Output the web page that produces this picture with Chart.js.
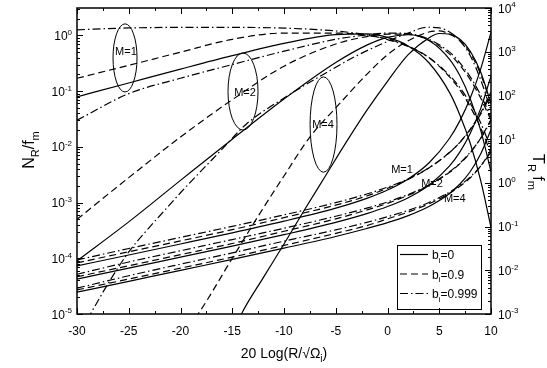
<!DOCTYPE html>
<html>
<head>
<meta charset="utf-8">
<script src="https://cdn.jsdelivr.net/npm/chart.js@4.4.1/dist/chart.umd.min.js"></script>
<style>
  html, body { margin: 0; padding: 0; background: #fff; }
</style>
</head>
<body>
<canvas id="chart" width="547" height="368"></canvas>
<script>
// threshold in dB, shared by most curves
const xGrid = [-30, -25, -20, -15, -10, -5, -2, 0, 2, 4, 6, 7, 8, 9, 10];

// N_R / f_m (left axis)
const nM1b0 = [0.079, 0.14, 0.248, 0.432, 0.717, 1.03, 1.06, 0.92, 0.647, 0.323, 0.094, 0.037, 0.0115, 0.0025, 0.00036];
const nM1b09 = [0.17, 0.29, 0.5, 0.85, 1.1, 1.1, 1.0, 0.86, 0.64, 0.4, 0.18, 0.105, 0.052, 0.022, 0.0075];
const nM1b999 = [1.26, 1.36, 1.39, 1.39, 1.35, 1.2, 1.02, 0.84, 0.63, 0.4, 0.19, 0.115, 0.06, 0.027, 0.0093];
const nM2b0 = [9e-5, 4.5e-4, 2.5e-3, 0.0137, 0.072, 0.325, 0.668, 0.922, 1.026, 0.809, 0.372, 0.188, 0.072, 0.02, 0.0036];
const nM2b09 = [5e-4, 2.8e-3, 0.015, 0.07, 0.28, 0.7, 0.95, 1.05, 1.05, 0.82, 0.46, 0.29, 0.16, 0.075, 0.03];
const nM2b999 = [0.03, 0.09, 0.17, 0.3, 0.52, 0.85, 1.02, 1.1, 1.08, 0.85, 0.5, 0.32, 0.18, 0.085, 0.034];

// the M=4 curves start below the axis, so they get their own x values
const xM4b0 = [-14.5, -14, -12, -10, -8, -6, -4, -2, 0, 2, 4, 5, 6, 7, 8, 9, 10];
const nM4b0 = [7e-6, 1.1e-5, 4.5e-5, 1.8e-4, 7.5e-4, 3e-3, 0.012, 0.045, 0.15, 0.45, 0.9, 1.08, 1.05, 0.85, 0.52, 0.22, 0.06];
const xM4b09 = [-18.6, -18.3, -15, -12, -10, -7.5, -5, -2, 0, 2, 4, 5, 6, 7, 8, 9, 10];
const nM4b09 = [8.5e-6, 1e-5, 1e-4, 8e-4, 3e-3, 0.015, 0.05, 0.2, 0.45, 0.8, 1.15, 1.2, 1.05, 0.8, 0.48, 0.2, 0.06];
const xM4b999 = [-29, -28.7, -27, -25, -23, -22, -20, -16, -13.6, -10, -6, -3, 0, 2, 3.8, 5, 6, 7, 8, 9, 10];
const nM4b999 = [8e-6, 1e-5, 3.5e-5, 1.3e-4, 3.6e-4, 5.8e-4, 1.5e-3, 9e-3, 0.026, 0.075, 0.21, 0.43, 0.78, 1.1, 1.4, 1.36, 1.15, 0.8, 0.43, 0.16, 0.045];

// T_R f_m (right axis)
const tM1b0 = [0.0126, 0.0224, 0.04, 0.072, 0.133, 0.264, 0.442, 0.685, 1.23, 2.85, 10.5, 26.5, 87, 400, 2780];
const tM1b09 = [0.0148, 0.0265, 0.047, 0.085, 0.16, 0.31, 0.5, 0.75, 1.2, 2.2, 5.0, 8.5, 17, 40, 120];
const tM1b999 = [0.0172, 0.0315, 0.0565, 0.101, 0.185, 0.353, 0.556, 0.796, 1.24, 2.2, 4.94, 8.45, 16.4, 37.3, 105];
const tM2b0 = [0.0063, 0.0112, 0.02, 0.0356, 0.0653, 0.125, 0.198, 0.287, 0.458, 0.884, 2.44, 5.11, 13.6, 50, 277];
const tM2b09 = [0.0071, 0.0127, 0.0228, 0.041, 0.078, 0.15, 0.24, 0.34, 0.52, 0.87, 1.75, 2.75, 4.9, 10.5, 28];
const tM2b999 = [0.0081, 0.0155, 0.028, 0.0505, 0.0915, 0.172, 0.2635, 0.366, 0.542, 0.894, 1.79, 2.83, 5.04, 10.4, 26.3];
const tM4b0 = [0.00315, 0.0056, 0.00997, 0.0177, 0.032, 0.0594, 0.0903, 0.123, 0.178, 0.288, 0.572, 0.94, 1.82, 4.57, 16.5];
const tM4b09 = [0.00355, 0.0063, 0.0112, 0.02, 0.037, 0.07, 0.105, 0.15, 0.215, 0.33, 0.58, 0.84, 1.3, 2.4, 5.5];
const tM4b999 = [0.0039, 0.0075, 0.0138, 0.025, 0.0465, 0.084, 0.125, 0.168, 0.235, 0.356, 0.615, 0.879, 1.376, 2.42, 5.08];

// ticks
const xTickValues = [-30, -25, -20, -15, -10, -5, 0, 5, 10];
const nDecades = [-5, -4, -3, -2, -1, 0];
const tDecades = [-3, -2, -1, 0, 1, 2, 3, 4];

// legend
const legendLabels = ["0", "0.9", "0.999"];

const FONT = 'Arial, "Liberation Sans", Helvetica, sans-serif';
const SOLID = [];
const DASH = [7, 4];
const DASHDOT = [8, 3, 1.5, 3];
const dashes = [SOLID, DASH, DASHDOT];

function pts(xs, ys) {
  return xs.map((x, i) => ({ x: x, y: ys[i] }));
}

function line(xs, ys, axis, dash) {
  return {
    data: pts(xs, ys),
    yAxisID: axis,
    borderColor: "#000",
    borderWidth: 1.2,
    borderDash: dash,
    pointRadius: 0,
    fill: false,
    cubicInterpolationMode: "monotone",
  };
}

const datasets = [
  line(xGrid, nM1b0, "yN", SOLID),
  line(xGrid, nM1b09, "yN", DASH),
  line(xGrid, nM1b999, "yN", DASHDOT),
  line(xGrid, nM2b0, "yN", SOLID),
  line(xGrid, nM2b09, "yN", DASH),
  line(xGrid, nM2b999, "yN", DASHDOT),
  line(xM4b0, nM4b0, "yN", SOLID),
  line(xM4b09, nM4b09, "yN", DASH),
  line(xM4b999, nM4b999, "yN", DASHDOT),
  line(xGrid, tM1b0, "yT", SOLID),
  line(xGrid, tM1b09, "yT", DASH),
  line(xGrid, tM1b999, "yT", DASHDOT),
  line(xGrid, tM2b0, "yT", SOLID),
  line(xGrid, tM2b09, "yT", DASH),
  line(xGrid, tM2b999, "yT", DASHDOT),
  line(xGrid, tM4b0, "yT", SOLID),
  line(xGrid, tM4b09, "yT", DASH),
  line(xGrid, tM4b999, "yT", DASHDOT),
];

// text with sub/superscript parts: [text, "sub" | "sup" | undefined]
function rich(ctx, parts, x, y, size, align) {
  const segs = parts.map((p) => {
    const s = p[1] ? Math.round(size * 0.7) : size;
    ctx.font = s + "px " + FONT;
    let dy = 0;
    if (p[1] === "sub") dy = size * 0.3;
    if (p[1] === "sup") dy = -size * 0.42;
    return { t: p[0], s: s, w: ctx.measureText(p[0]).width, dy: dy };
  });
  const total = segs.reduce((s, g) => s + g.w, 0);
  let cx = x;
  if (align === "right") cx = x - total;
  if (align === "center") cx = x - total / 2;
  ctx.textAlign = "left";
  ctx.textBaseline = "alphabetic";
  segs.forEach((g) => {
    ctx.font = g.s + "px " + FONT;
    ctx.fillText(g.t, cx, y + g.dy);
    cx += g.w;
  });
}

const decor = {
  id: "decor",
  afterDatasetsDraw(chart) {
    const { ctx, chartArea: a, scales } = chart;
    const sx = scales.x, sn = scales.yN, st = scales.yT;
    ctx.save();
    ctx.strokeStyle = "#000";
    ctx.fillStyle = "#000";

    // frame
    ctx.lineWidth = 1.5;
    ctx.strokeRect(a.left, a.top, a.right - a.left, a.bottom - a.top);

    // x ticks (inside, bottom and top) and labels
    ctx.lineWidth = 1;
    ctx.beginPath();
    xTickValues.forEach((v, i) => {
      const px = Math.round(sx.getPixelForValue(v)) + 0.5;
      ctx.moveTo(px, a.bottom); ctx.lineTo(px, a.bottom - 6);
      ctx.moveTo(px, a.top); ctx.lineTo(px, a.top + 6);
      if (i < xTickValues.length - 1) {
        const pm = Math.round(sx.getPixelForValue((v + xTickValues[i + 1]) / 2)) + 0.5;
        ctx.moveTo(pm, a.bottom); ctx.lineTo(pm, a.bottom - 3);
        ctx.moveTo(pm, a.top); ctx.lineTo(pm, a.top + 3);
      }
    });
    ctx.stroke();
    xTickValues.forEach((v) => {
      rich(ctx, [[String(v)]], sx.getPixelForValue(v), a.bottom + 21, 12, "center");
    });

    // log ticks for a y scale
    function logTicks(scale, decades, left) {
      const x0 = left ? a.left : a.right;
      const dir = left ? 1 : -1;
      ctx.beginPath();
      decades.forEach((d) => {
        for (let m = 1; m <= 9; m++) {
          const v = m * Math.pow(10, d);
          if (v < scale.min * 0.999 || v > scale.max * 1.001) continue;
          const py = Math.round(scale.getPixelForValue(v)) + 0.5;
          const len = m === 1 ? 6 : 3;
          ctx.moveTo(x0, py); ctx.lineTo(x0 + dir * len, py);
        }
      });
      ctx.stroke();
      decades.forEach((d) => {
        const py = scale.getPixelForValue(Math.pow(10, d));
        if (left) rich(ctx, [["10"], [String(d), "sup"]], a.left - 5, py + 4.5, 12, "right");
        else rich(ctx, [["10"], [String(d), "sup"]], a.right + 7, py + 4.5, 12, "left");
      });
    }
    logTicks(sn, nDecades, true);
    logTicks(st, tDecades, false);

    // axis titles
    rich(ctx, [["20 Log(R/\u221A\u03A9"], ["i", "sub"], [")"]], (a.left + a.right) / 2, a.bottom + 44, 14, "center");
    ctx.save();
    ctx.translate(a.left - 43, (a.top + a.bottom) / 2 - 11);
    ctx.rotate(-Math.PI / 2);
    rich(ctx, [["N"], ["R", "sub"], ["/f"], ["m", "sub"]], 0, 0, 16, "center");
    ctx.restore();
    ctx.save();
    ctx.translate(a.right + 42, (a.top + a.bottom) / 2 + 11);
    ctx.rotate(Math.PI / 2);
    rich(ctx, [["T"], ["R", "sub"], [" f"], ["m", "sub"]], 0, 0, 16, "center");
    ctx.restore();

    // ellipses grouping the N_R curves
    ctx.lineWidth = 1;
    const groups = [
      { label: "M=1", xc: -25.36, hw: 1.16, top: 1.61, bot: 0.0964, lx: -25.27, ly: 0.526 },
      { label: "M=2", xc: -13.96, hw: 1.45, top: 0.484, bot: 0.02, lx: -13.77, ly: 0.096 },
      { label: "M=4", xc: -6.18, hw: 1.3, top: 0.18, bot: 0.0035, lx: -6.23, ly: 0.0255 },
    ];
    groups.forEach((g) => {
      const cx = sx.getPixelForValue(g.xc);
      const rx = sx.getPixelForValue(g.xc + g.hw) - cx;
      const y1 = sn.getPixelForValue(g.top), y2 = sn.getPixelForValue(g.bot);
      ctx.beginPath();
      ctx.ellipse(cx, (y1 + y2) / 2, rx, (y2 - y1) / 2, 0, 0, Math.PI * 2);
      ctx.stroke();
      rich(ctx, [[g.label]], sx.getPixelForValue(g.lx), sn.getPixelForValue(g.ly) + 4, 11, "center");
    });

    // labels of the T_R groups
    const tLabels = [
      { label: "M=1", x: 1.4, y: 2.07 },
      { label: "M=2", x: 4.3, y: 0.99 },
      { label: "M=4", x: 6.5, y: 0.449 },
    ];
    tLabels.forEach((g) => {
      rich(ctx, [[g.label]], sx.getPixelForValue(g.x), st.getPixelForValue(g.y) + 4, 11, "center");
    });

    // legend box
    const bw = 84, bh = 64;
    const bx = a.right - 10 - bw, by = a.bottom - 5 - bh;
    ctx.lineWidth = 1;
    ctx.strokeRect(bx + 0.5, by + 0.5, bw, bh);
    legendLabels.forEach((lab, i) => {
      const ry = by + 9.5 + i * 19.5;
      ctx.setLineDash(dashes[i]);
      ctx.lineWidth = 1.2;
      ctx.beginPath();
      ctx.moveTo(bx + 3, ry); ctx.lineTo(bx + 31, ry);
      ctx.stroke();
      ctx.setLineDash([]);
      rich(ctx, [["b"], ["i", "sub"], ["=" + lab]], bx + 35, ry + 4.5, 12, "left");
    });

    ctx.restore();
  },
};

new Chart(document.getElementById("chart"), {
  type: "line",
  data: { datasets: datasets },
  options: {
    responsive: false,
    animation: false,
    devicePixelRatio: 1,
    layout: { padding: { left: 77, right: 56, top: 8, bottom: 54 } },
    plugins: { legend: { display: false }, tooltip: { enabled: false } },
    scales: {
      x: { type: "linear", min: -30, max: 10, display: false },
      yN: { type: "logarithmic", position: "left", min: 1e-5, max: 3.1, display: false },
      yT: { type: "logarithmic", position: "right", min: 1e-3, max: 1e4, display: false },
    },
  },
  plugins: [decor],
});
</script>
</body>
</html>
